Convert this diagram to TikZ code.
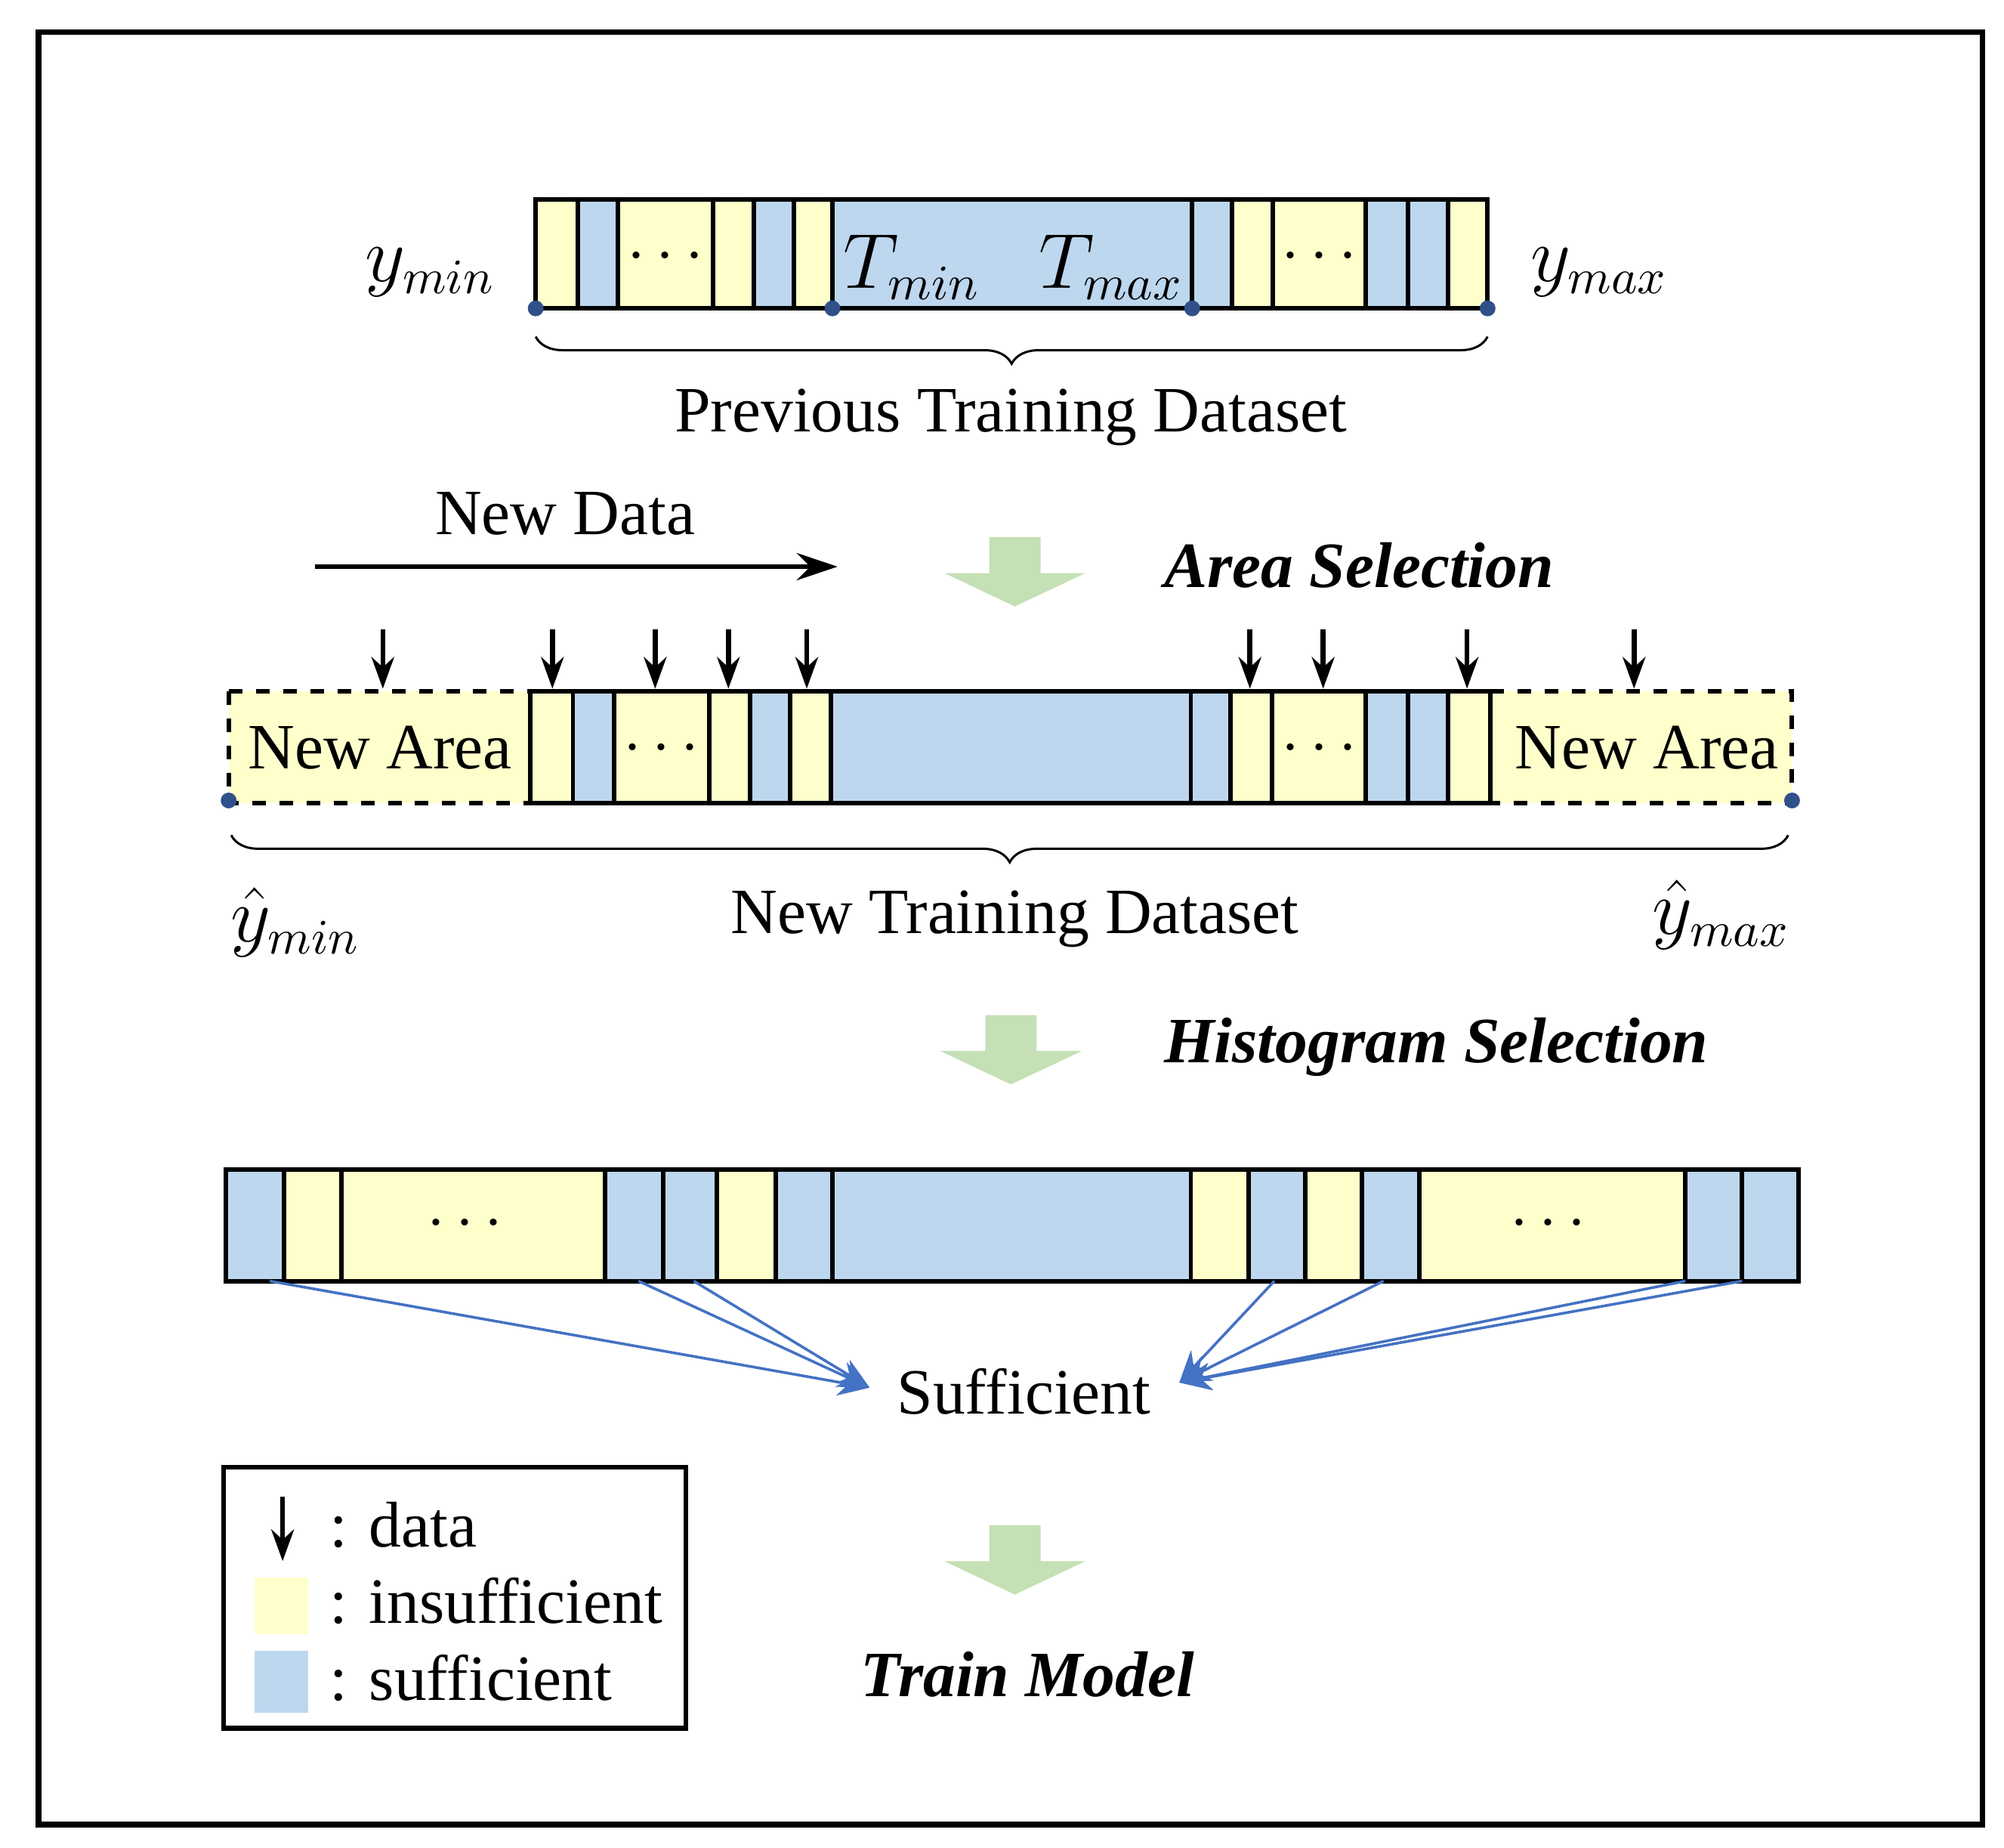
\documentclass[tikz,border=0pt]{standalone}
\usepackage{fontspec}
\setmainfont{Liberation Serif}
\usetikzlibrary{arrows.meta,decorations.pathreplacing,shapes.arrows}
\definecolor{ye}{HTML}{FFFFCC}
\definecolor{bl}{HTML}{BDD7EE}
\definecolor{gr}{HTML}{C5E0B4}
\definecolor{ln}{HTML}{4472C4}
\tikzset{
 cell/.style={draw=black,line width=1.0pt},
 txt/.style={font=\fontsize{14.3}{16}\selectfont,inner sep=0pt},
 bi/.style={font=\fontsize{14.3}{16}\selectfont\bfseries\itshape,inner sep=0pt},
 mth/.style={font=\fontsize{16}{18}\selectfont,inner sep=0pt},
 dot/.style={circle,fill=ln!70!black,inner sep=0pt,minimum size=3.5pt},
 dn/.style={-{Stealth[length=7pt,width=5pt]},line width=1.1pt},
 blink/.style={draw=ln,line width=0.6pt,-{Stealth[length=7pt,width=6pt]}},
 dts/.style={font=\fontsize{14}{14}\selectfont\bfseries,inner sep=0pt},
 br/.style={decorate,decoration={brace,mirror,amplitude=6pt},line width=0.5pt}
}
\newcommand{\dotsthree}{\tikz[baseline]{\foreach \i in {0,1,2} \fill (\i*0.13,0) circle (0.025);}}
\newcommand{\greenarrow}[2]{% center x, top y
 \fill[gr] (#1-20,#2) -- (#1+20,#2) -- (#1+20,#2+28) -- (#1+55,#2+28) -- (#1,#2+54) -- (#1-55,#2+28) -- (#1-20,#2+28) -- cycle;}
\begin{document}
\begin{tikzpicture}[x=0.01cm,y=-0.01cm]
\useasboundingbox (0,0) rectangle (1560,1438);
\draw[line width=1.2pt] (30,25) rectangle (1543,1420);
% top bar
\foreach \a/\b/\c in {417/450/ye,450/481/bl,481/555/ye,555/587/ye,587/618/bl,618/648/ye,648/928/bl,928/959/bl,959/991/ye,991/1063/ye,1063/1096/bl,1096/1127/bl,1127/1158/ye}
  \draw[cell,fill=\c] (\a,155) rectangle (\b,240);
\node[dts] (d1) at (518,200) {$\cdots$};
\node[dts] (d2) at (1027,200) {$\cdots$};
\node[mth] (tmin) at (710,208) {$T_{min}$};
\node[mth] (tmax) at (865,208) {$T_{max}$};
\foreach \x/\n in {417/p1,648/p2,928/p3,1158/p4} \node[dot] (\n) at (\x,240) {};
\node[mth] (ymin) at (335,212) {$y_{min}$};
\node[mth] (ymax) at (1245,212) {$y_{max}$};
\draw[br] (417,262) -- (1158,262);
\node[txt] (ptd) at (787,325) {Previous Training Dataset};
% new data
\node[txt] (nd) at (440,400) {New Data};
\coordinate (nda) at (245,441); \coordinate (ndb) at (652,441);
\draw[-{Stealth[length=9pt,width=6pt]},line width=1.1pt] (nda) -- (ndb);
\greenarrow{790}{418}
\node[bi] (as) at (1058,440) {Area Selection};
% middle bar
\draw[cell,dashed,fill=ye] (178,538) rectangle (413,625);
\draw[cell,dashed,fill=ye] (1160,538) rectangle (1395,625);
\foreach \a/\b/\c in {413/446/ye,446/478/bl,478/552/ye,552/584/ye,584/615/bl,615/647/ye,647/927/bl,927/958/bl,958/990/ye,990/1063/ye,1063/1096/bl,1096/1127/bl,1127/1160/ye}
  \draw[cell,fill=\c] (\a,538) rectangle (\b,625);
\node[txt] (na1) at (296,582) {New Area};
\node[txt] (na2) at (1282,582) {New Area};
\node[dts] (d3) at (515,583) {$\cdots$};
\node[dts] (d4) at (1027,583) {$\cdots$};
\node[dot] (q1) at (178,623) {}; \node[dot] (q2) at (1395,623) {};
\foreach \x in {298,430,510,567,628,973,1030,1142,1272}
  \draw[dn] (\x,490) -- (\x,536);
\draw[br] (180,650) -- (1392,650);
\node[mth] (yhmin) at (230,718) {$\hat{y}_{min}$};
\node[txt] (ntd) at (790,715) {New Training Dataset};
\node[mth] (yhmax) at (1340,712) {$\hat{y}_{max}$};
\greenarrow{787}{790}
\node[bi] (hs) at (1118,815) {Histogram Selection};
% bottom bar
\foreach \a/\b/\c in {176/221/bl,221/266/ye,266/471/ye,471/516/bl,516/558/bl,558/604/ye,604/648/bl,648/927/bl,927/972/ye,972/1016/bl,1016/1060/ye,1060/1105/bl,1105/1312/ye,1312/1356/bl,1356/1400/bl}
  \draw[cell,fill=\c] (\a,910) rectangle (\b,997);
\node[dts] (d5) at (362,953) {$\cdots$};
\node[dts] (d6) at (1205,953) {$\cdots$};
\node[txt] (suf) at (797,1083) {Sufficient};
\coordinate (la) at (677,1080); \coordinate (ra) at (918,1076);
\foreach \x in {210,497,540} \draw[blink] (\x,997) -- (la);
\foreach \x in {992,1077,1312,1356} \draw[blink] (\x,997) -- (ra);
% legend
\draw[line width=1.1pt] (174,1142) rectangle (534,1345);
\draw[dn] (220,1165) -- (220,1215);
\node[txt,anchor=west] (l1) at (256,1187) {: data};
\fill[ye] (198,1228) rectangle (240,1272);
\node[txt,anchor=west] (l2) at (256,1246) {: insufficient};
\fill[bl] (198,1285) rectangle (240,1333);
\node[txt,anchor=west] (l3) at (256,1306) {: sufficient};
\greenarrow{790}{1187}
\node[bi] (tm) at (800,1303) {Train Model};
\end{tikzpicture}
\end{document}
